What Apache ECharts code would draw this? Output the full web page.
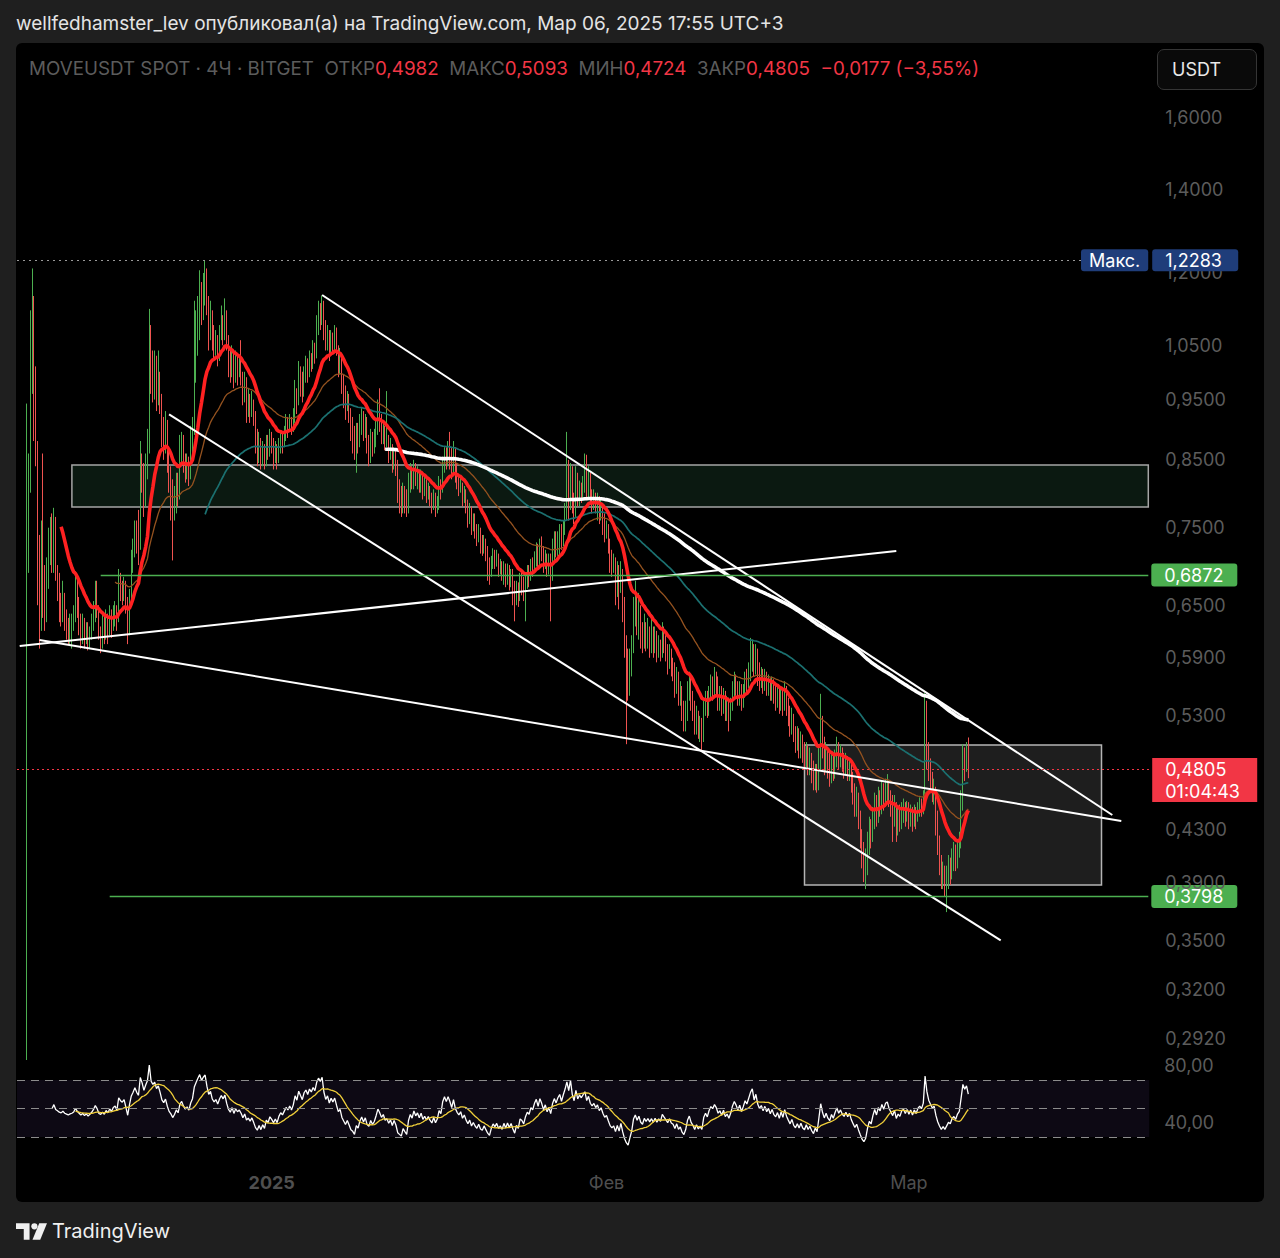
<!DOCTYPE html>
<html><head><meta charset="utf-8">
<script src="https://cdn.jsdelivr.net/npm/echarts@6/dist/echarts.min.js"></script>
<style>
html,body{margin:0;padding:0;background:#1f1f1f;width:1280px;height:1258px;overflow:hidden;font-family:Inter,"Noto Sans",sans-serif;}
#hdr{position:absolute;left:16px;top:12px;font-size:19px;color:#e4e4e4;white-space:nowrap;}
#panel{position:absolute;left:16px;top:43px;width:1248px;height:1159px;background:#000;border-radius:6px;}
#chart{position:absolute;left:0;top:0;width:1280px;height:1258px;z-index:1;}
#legend{position:absolute;left:29px;top:57px;font-size:18.8px;color:#5c5c5c;white-space:pre;z-index:2;}
#legend .r{color:#f23645;}
#usdt{position:absolute;left:1157px;top:49px;width:100px;height:41px;box-sizing:border-box;border:1px solid #353535;border-radius:7px;background:#0a0a0a;color:#e8e8e8;font-size:18px;line-height:39px;padding-left:14px;z-index:2;}
#logo{position:absolute;left:16px;top:1219px;height:24px;display:flex;align-items:center;color:#f0f0f0;font-size:20px;z-index:2;}
#logo svg{margin-right:5px;}
</style></head>
<body>
<div id="hdr">wellfedhamster_lev опубликовал(а) на TradingView.com, Мар 06, 2025 17:55 UTC+3</div>
<div id="panel"></div>
<div id="chart"></div>
<div id="legend">MOVEUSDT SPOT · 4Ч · BITGET  ОТКР<span class="r">0,4982</span>  МАКС<span class="r">0,5093</span>  МИН<span class="r">0,4724</span>  ЗАКР<span class="r">0,4805</span>  <span class="r">−0,0177 (−3,55%)</span></div>
<div id="usdt">USDT</div>
<div id="logo"><svg width="31" height="17" viewBox="0 0 32 17"><path d="M0 0h14v17h-6V6H0z" fill="#f0f0f0"/><circle cx="19" cy="3.2" r="3.2" fill="#f0f0f0"/><path d="M24 0h8l-7 17h-8z" fill="#f0f0f0"/></svg>TradingView</div>
<script>
// MOVEUSDT 4H candles; prices in thousandths of USDT (845 = 0.845)
const firstOpen = 300;
const closes = [
700,830,1000,1080,920,860,700,640,720,660,
640,690,730,745,700,760,690,670,650,640,
660,635,625,615,625,630,640,670,645,630,
615,625,610,620,605,615,625,640,660,645,
620,615,625,615,630,620,635,625,640,645,
630,680,670,665,675,650,620,660,700,720,
745,730,720,840,820,790,830,870,1080,990,
970,1000,960,990,950,900,880,910,860,820,
800,770,790,820,800,860,880,850,830,845,
825,870,900,1000,1050,1100,1150,1120,1160,1190,
1130,1080,1110,1060,1040,1060,1030,1070,1100,1080,
1110,1060,1020,1000,1030,990,1020,1000,1010,990,
960,980,940,950,930,945,915,880,860,880,
850,870,845,880,865,890,875,855,870,850,
875,890,880,895,910,900,915,900,920,960,
945,990,975,960,995,1010,995,1025,1015,1040,
1030,1080,1110,1100,1130,1080,1050,1070,1040,1065,
1050,1070,1040,1010,1020,980,960,940,955,930,
900,890,870,900,885,910,925,900,915,880,
870,890,870,880,900,925,910,890,900,875,
880,860,870,845,860,840,800,790,780,800,
785,770,810,830,815,840,820,830,810,825,
800,810,795,805,790,780,795,775,785,810,
800,840,860,845,865,850,830,860,830,815,
805,815,790,800,780,765,775,750,760,745,
735,745,725,720,730,715,700,690,705,715,
705,712,695,700,688,700,685,695,680,688,
670,655,670,660,680,675,665,680,690,685,
700,695,710,720,705,725,715,700,712,695,
705,690,715,730,720,735,745,730,750,770,
800,780,830,790,770,820,790,810,800,815,
830,800,820,795,785,795,780,790,770,780,
760,745,750,730,710,700,705,680,695,670,
690,650,610,580,560,580,600,640,655,630,
645,615,605,625,610,620,605,615,600,612,
595,605,595,615,605,595,585,595,580,575,
560,570,550,555,535,525,535,555,565,545,
535,520,530,515,520,510,535,545,535,550,
560,555,565,558,545,550,540,550,535,540,
530,540,555,565,558,548,558,545,555,568,
562,575,590,600,580,595,575,565,572,560,
570,558,565,553,562,550,545,553,540,552,
540,555,540,530,520,528,512,505,512,500,
508,495,490,498,485,490,478,470,478,468,
490,520,500,485,495,482,475,488,478,490,
500,488,495,485,480,488,478,484,470,460,
450,455,440,425,410,400,405,420,432,425,
440,452,440,455,448,462,452,465,468,455,
448,440,450,432,440,435,445,448,440,447,
438,445,436,444,438,446,450,446,455,530,
500,480,470,460,465,440,420,405,392,398,
388,395,402,398,408,412,405,415,420,450,
495,485,498.2,480.5];
const highs = [
943,860,1120,1210,1150,1010,880,740,760,860,
700,710,750,765,770,778,765,700,690,665,
680,665,645,635,640,640,650,692,685,660,
640,640,635,630,630,625,640,655,680,680,
650,625,640,640,645,640,650,645,650,655,
650,695,690,680,685,680,660,670,720,735,
760,760,775,880,860,845,860,900,1123,1090,
1040,1040,1030,1040,1000,960,920,930,915,870,
840,820,810,830,830,890,895,890,860,860,
855,905,920,1140,1120,1150,1206,1180,1200,1228,
1210,1150,1140,1120,1090,1080,1070,1090,1130,1110,
1145,1120,1070,1040,1050,1040,1040,1030,1030,1060,
1000,1000,990,970,960,965,950,930,900,895,
885,880,875,890,890,900,895,885,880,875,
885,895,895,905,925,920,925,920,935,985,
970,1020,1010,1000,1010,1030,1025,1040,1035,1060,
1055,1110,1140,1135,1151,1140,1100,1090,1080,1080,
1075,1090,1085,1050,1045,1030,995,975,965,960,
935,920,905,910,910,925,935,930,925,920,
890,900,895,900,915,950,970,925,915,905,
965,890,885,875,870,865,850,820,810,815,
810,805,830,845,840,850,845,840,835,835,
830,825,820,815,810,800,805,800,795,825,
820,855,870,870,880,895,870,880,870,845,
825,825,815,810,805,790,785,780,770,770,
755,755,750,740,740,735,725,710,712,722,
720,720,715,708,705,705,702,702,700,695,
695,680,680,678,690,690,685,688,700,700,
708,710,718,730,728,735,738,725,720,715,
715,715,735,745,745,745,755,755,760,785,
895,850,845,840,800,840,830,818,815,825,
860,858,840,830,805,805,800,800,795,790,
785,770,760,755,735,720,715,710,705,700,
705,695,660,615,600,600,615,660,680,665,
665,650,630,640,630,635,625,635,625,625,
620,615,610,630,625,615,605,605,600,590,
585,580,575,565,560,545,545,565,575,570,
555,545,540,535,530,528,545,555,555,560,
572,570,580,575,570,560,560,558,555,550,
548,548,565,575,572,565,565,562,562,575,
578,585,612,610,605,605,600,585,580,578,
578,575,572,568,570,567,560,560,558,560,
558,565,560,548,540,538,532,520,520,518,
515,512,505,505,502,500,495,488,485,485,
500,552,530,510,505,500,495,495,495,498,
510,505,503,500,495,495,492,490,488,478,
468,465,460,445,430,420,415,428,440,438,
448,460,458,465,462,470,468,472,476,470,
462,458,458,452,448,450,452,455,452,453,
452,450,448,450,448,452,456,455,462,553,
545,505,490,478,472,465,445,425,410,405,
402,402,410,408,415,420,418,422,428,462,
503,500,505,509.3];
const lows = [
200,690,800,960,880,840,650,600,620,635,
620,630,670,700,690,690,680,655,630,625,
630,620,610,605,605,600,620,630,635,615,
600,605,600,605,598,600,610,620,630,635,
610,595,600,605,610,605,615,612,620,625,
620,630,655,650,655,640,605,615,650,690,
710,715,700,720,800,765,780,820,860,960,
945,950,930,940,925,870,850,860,830,800,
760,706,760,770,780,790,840,830,815,820,
810,820,860,890,980,1030,1060,1090,1100,1130,
1110,1040,1060,1040,1020,1030,1010,1020,1060,1050,
1060,1040,990,980,990,970,980,975,990,975,
940,945,910,920,910,920,905,860,840,845,
835,840,835,840,850,855,860,835,845,835,
845,860,860,870,880,885,895,890,895,910,
925,940,955,945,955,980,980,990,1000,1005,
1015,1025,1070,1080,1090,1060,1040,1040,1020,1030,
1035,1040,1030,990,995,960,935,915,930,910,
880,860,850,830,860,870,890,880,885,860,
840,845,855,860,870,890,895,875,875,865,
870,845,850,830,835,825,785,770,765,770,
770,765,770,800,805,805,810,805,800,800,
790,795,785,790,780,770,775,765,770,775,
790,800,830,835,840,835,820,825,815,805,
795,800,780,785,770,750,755,740,745,735,
725,730,715,712,715,705,680,675,685,695,
695,698,685,688,680,675,672,675,668,672,
650,631,650,648,655,662,655,631,670,672,
680,685,690,698,695,700,705,690,695,685,
688,631,680,705,710,712,712,720,725,740,
760,760,775,770,755,765,780,780,785,790,
800,790,790,785,770,775,770,760,755,760,
740,730,735,715,690,685,690,650,660,645,
665,630,590,503,545,550,570,595,625,615,
610,600,595,600,597,600,590,595,590,595,
585,590,586,590,595,586,572,578,570,565,
548,552,540,540,525,515,515,525,545,535,
525,512,512,508,505,497,505,530,528,530,
545,545,550,550,535,535,530,532,525,525,
515,525,535,548,550,540,540,535,538,548,
552,558,565,575,570,572,560,555,558,552,
555,550,550,545,545,542,535,538,532,535,
530,535,530,520,510,512,505,495,497,490,
490,486,480,482,475,475,468,462,462,460,
462,480,490,475,478,472,465,468,470,472,
482,480,482,478,472,475,470,470,460,450,
440,440,430,415,400,390,385,395,410,415,
420,430,432,435,440,442,445,448,452,448,
440,420,432,420,425,428,430,435,432,436,
430,432,428,432,430,436,440,440,442,450,
480,470,460,452,450,425,410,395,385,385,
380,369,385,388,392,398,398,400,408,415,
445,470,478,472.4];

// axis ticks and annotations (prices in USDT, x as candle index)
const priceTicks = [1.6, 1.4, 1.2, 1.05, 0.95, 0.85, 0.75, 0.65, 0.59, 0.53, 0.43, 0.39, 0.35, 0.32, 0.292];
const rsiTicks = [80, 40];
const rsiLevels = [70, 50, 30];
const timeTicks = [['2025-01-01 03:00', '2025', true], ['2025-02-01 03:00', 'Фев', false], ['2025-03-01 03:00', 'Мар', false]];
const maxPrice = 1.2283;
const lastPrice = 0.4805;
const countdown = '01:04:43';
const levels = [[0.6872, 41], [0.3798, 46]];
const zones = [[25, 623, 0.842, 0.779], [432, 597, 0.5023, 0.3879]];
const trendLines = [[164, 1.1521, 603, 0.4414], [79, 0.9244, 541, 0.3502], [7, 0.6096, 608, 0.4365], [-4, 0.6029, 483, 0.7184]];
const emaPeriods = [20, 50, 100, 200];
const rsiPeriod = 14;
const priceRange = [0.28088, 1.83414];
const rsiRange = [12.456, 84.035];

// ---------- build ----------
const PAD = 5, NCAT = 629, H4 = 4 * 3600 * 1000;
const t0 = Date.UTC(2024, 11, 9, 11);
const p2 = v => (v < 10 ? '0' : '') + v;
const cats = [];
for (let k = 0; k < NCAT; k++) {
  const d = new Date(t0 + (k - PAD) * H4);
  cats.push(d.getUTCFullYear() + '-' + p2(d.getUTCMonth() + 1) + '-' + p2(d.getUTCDate()) + ' ' + p2(d.getUTCHours()) + ':00');
}
const n = closes.length;
const cl = closes.map(v => v / 1000);
const ohlc = [];
for (let i = 0; i < n; i++) {
  const o = (i ? closes[i - 1] : firstOpen), c = closes[i];
  // wicks below the visible price range are cut at the pane edge, as in the chart
  const lo = Math.max(Math.min(lows[i], o, c) / 1000, priceRange[0]);
  ohlc.push([o / 1000, c / 1000, lo, Math.max(highs[i], o, c) / 1000]);
}
const padArr = a => Array(PAD).fill('-').concat(a.map(v => v == null ? '-' : v));
function ema(src, p) {
  const out = new Array(src.length).fill(null);
  let s = 0; for (let i = 0; i < p; i++) s += src[i];
  let e = s / p; out[p - 1] = e; const a = 2 / (p + 1);
  for (let i = p; i < src.length; i++) { e = a * src[i] + (1 - a) * e; out[i] = e; }
  return out;
}
function rsi(src, p) {
  const out = new Array(src.length).fill(null);
  let g = 0, l = 0;
  for (let i = 1; i <= p; i++) { const d = src[i] - src[i - 1]; g += Math.max(d, 0); l += Math.max(-d, 0); }
  g /= p; l /= p; out[p] = l === 0 ? 100 : 100 - 100 / (1 + g / l);
  for (let i = p + 1; i < src.length; i++) {
    const d = src[i] - src[i - 1];
    g = (g * (p - 1) + Math.max(d, 0)) / p; l = (l * (p - 1) + Math.max(-d, 0)) / p;
    out[i] = l === 0 ? 100 : 100 - 100 / (1 + g / l);
  }
  return out;
}
function sma(src, p) {
  const out = new Array(src.length).fill(null);
  for (let i = 0; i < src.length; i++) {
    let s = 0, ok = true;
    for (let j = i - p + 1; j <= i; j++) { if (j < 0 || src[j] == null) { ok = false; break; } s += src[j]; }
    if (ok) out[i] = s / p;
  }
  return out;
}
const rsiVals = rsi(cl, rsiPeriod);
const rsiMa = sma(rsiVals, rsiPeriod);
const fmt4 = v => v.toFixed(4).replace('.', ',');
const fmt2 = v => v.toFixed(2).replace('.', ',');
const blank = new Array(NCAT).fill('-');

const FONT = 'Inter, "Noto Sans", sans-serif';
const GL = 17, GR = 1280 - (17 + NCAT * 1.8);
const HIDDEN = { color: 'rgba(0,0,0,0)', width: 0 };
const emaStyles = [
  { color: '#ff2121', width: 3.6 },
  { color: '#94521f', width: 1.3 },
  { color: '#1b7070', width: 1.7 },
  { color: '#ffffff', width: 3.6 }
];
const tickMap = {}; timeTicks.forEach(t => tickMap[t[0]] = t);

const series = [];
// zones
series.push({
  type: 'line', data: blank, xAxisIndex: 0, yAxisIndex: 0, z: 1, silent: true,
  markArea: {
    silent: true,
    data: zones.map((z, k) => [
      { coord: [PAD + z[0], z[2]], itemStyle: k === 0 ? { color: '#0b1911', borderColor: '#a5a5a5', borderWidth: 1.5 } : { color: 'rgba(40,40,40,0.75)', borderColor: '#b5b5b5', borderWidth: 1.5 } },
      { coord: [PAD + z[1], z[3]] }
    ])
  }
});
// candles
series.push({
  type: 'candlestick', xAxisIndex: 0, yAxisIndex: 0, z: 2, large: false, silent: true, clip: true,
  barWidth: 1.3,
  data: padArr(ohlc),
  itemStyle: { color: '#4caf50', color0: '#ef5350', borderColor: '#4caf50', borderColor0: '#ef5350', borderWidth: 1 }
});
// moving averages
emaPeriods.forEach((p, k) => series.push({
  type: 'line', xAxisIndex: 0, yAxisIndex: 0, z: 3 + (k === 0 ? 1 : 0), silent: true, showSymbol: false, symbol: 'none',
  data: padArr(ema(cl, p)), lineStyle: emaStyles[k]
}));
// drawings
const drawLines = [];
trendLines.forEach(t => drawLines.push([
  { coord: [PAD + t[0], t[1]], lineStyle: { color: '#ffffff', width: 2, type: 'solid' }, label: { show: false } },
  { coord: [PAD + t[2], t[3]] }
]));
levels.forEach(lv => drawLines.push([
  { coord: [PAD + lv[1], lv[0]], lineStyle: { color: '#4caf50', width: 1.4, type: 'solid' },
    label: { show: true, position: 'end', distance: 3, formatter: fmt4(lv[0]), backgroundColor: '#4caf50', color: '#ffffff', fontSize: 18, fontFamily: FONT, padding: [3, 0, 2, 13], width: 73, borderRadius: 3 } },
  { coord: [NCAT - 1, lv[0]] }
]));
drawLines.push({ yAxis: maxPrice, lineStyle: { color: '#9a9a9a', width: 1, type: [2, 4] }, label: { show: false } });
drawLines.push({ yAxis: lastPrice, lineStyle: { color: '#f23645', width: 1.2, type: [2, 3] }, label: { show: false } });
series.push({
  type: 'line', data: blank, xAxisIndex: 0, yAxisIndex: 0, z: 5, silent: true,
  markLine: { silent: true, symbol: 'none', animation: false, precision: 6, data: drawLines }
});
// price tick labels
series.push({
  type: 'line', data: blank, xAxisIndex: 0, yAxisIndex: 0, z: 6, silent: true,
  markLine: {
    silent: true, symbol: 'none', animation: false, precision: 6,
    lineStyle: HIDDEN,
    label: { position: 'end', distance: 16, color: '#5c5c5c', fontSize: 18, fontFamily: FONT },
    data: priceTicks.map(v => ({ yAxis: v, lineStyle: HIDDEN, label: { formatter: fmt4(v), color: '#5c5c5c' } }))
  }
});
// special price labels
series.push({
  type: 'line', data: blank, xAxisIndex: 0, yAxisIndex: 0, z: 8, silent: true,
  markLine: {
    silent: true, symbol: 'none', animation: false, precision: 6,
    lineStyle: HIDDEN,
    data: [
      { yAxis: maxPrice, lineStyle: HIDDEN, label: { position: 'end', distance: 3, formatter: fmt4(maxPrice), backgroundColor: '#1f3d7a', color: '#ffffff', fontSize: 18, fontFamily: FONT, padding: [2, 0, 2, 13], width: 73, borderRadius: 3 } },
      { yAxis: maxPrice, lineStyle: HIDDEN, label: { position: 'insideEnd', distance: 1, formatter: 'Макс.', backgroundColor: '#1f3d7a', color: '#ffffff', fontSize: 18, fontFamily: FONT, padding: [2, 8, 2, 8], borderRadius: 3 } },
      { yAxis: lastPrice, lineStyle: HIDDEN, label: { position: 'end', distance: 3, formatter: '{e| }\n{a|' + fmt4(lastPrice) + '}\n{b|' + countdown + '}',
        fontSize: 18, fontFamily: FONT, color: '#ffffff',
        rich: {
          e: { height: 22, lineHeight: 22, fontSize: 18 },
          a: { height: 22, lineHeight: 22, width: 92, padding: [0, 0, 0, 13], backgroundColor: '#f23645', color: '#fff', fontSize: 18, fontFamily: FONT },
          b: { height: 22, lineHeight: 22, width: 92, padding: [0, 0, 0, 13], backgroundColor: '#f23645', color: '#fff', fontSize: 18, fontFamily: FONT }
        } } }
    ]
  }
});
// RSI pane
series.push({
  type: 'line', xAxisIndex: 1, yAxisIndex: 1, z: 3, silent: true, showSymbol: false, symbol: 'none',
  data: padArr(rsiVals), lineStyle: { color: '#ffffff', width: 1.3 },
  markArea: { silent: true, data: [[{ yAxis: 30, itemStyle: { color: 'rgba(126,87,194,0.1)' } }, { yAxis: 70 }]] },
  markLine: {
    silent: true, symbol: 'none', animation: false, precision: 6,
    data: rsiLevels.map(v => ({ yAxis: v, lineStyle: { color: '#8c8c8c', width: 1, type: [8, 6] }, label: { show: false } }))
      .concat(rsiTicks.map(v => ({ yAxis: v, lineStyle: HIDDEN, label: { show: true, position: 'end', distance: 15, formatter: fmt2(v), color: '#5c5c5c', fontSize: 18, fontFamily: FONT } })))
  }
});
series.push({
  type: 'line', xAxisIndex: 1, yAxisIndex: 1, z: 4, silent: true, showSymbol: false, symbol: 'none',
  data: padArr(rsiMa), lineStyle: { color: '#f0cf3a', width: 1.3 }
});

const chart = echarts.init(document.getElementById('chart'), null, { renderer: 'svg' });
try {
chart.setOption({
  backgroundColor: 'transparent',
  animation: false,
  grid: [
    { left: GL, right: GR, top: 43, height: 1017 },
    { left: GL, right: GR, top: 1060, height: 102 }
  ],
  xAxis: [
    { type: 'category', data: cats, gridIndex: 0, boundaryGap: true, show: false },
    { type: 'category', data: cats, gridIndex: 1, boundaryGap: true,
      axisLine: { show: false }, axisTick: { show: false }, splitLine: { show: false },
      axisLabel: {
        margin: 11, fontFamily: FONT, fontSize: 18, color: '#4f4f4f',
        interval: (idx, val) => tickMap[val] !== undefined,
        formatter: val => tickMap[val] ? (tickMap[val][2] ? '{b|' + tickMap[val][1] + '}' : tickMap[val][1]) : '',
        rich: { b: { fontWeight: 'bold', fontSize: 18, fontFamily: FONT, color: '#4f4f4f' } }
      } }
  ],
  yAxis: [
    { type: 'log', logBase: 10, gridIndex: 0, min: priceRange[0], max: priceRange[1], show: false },
    { type: 'value', gridIndex: 1, min: rsiRange[0], max: rsiRange[1], show: false }
  ],
  series: series
});
} catch (e) { console.error('setOption: ' + e.message); }
</script>
</body></html>
